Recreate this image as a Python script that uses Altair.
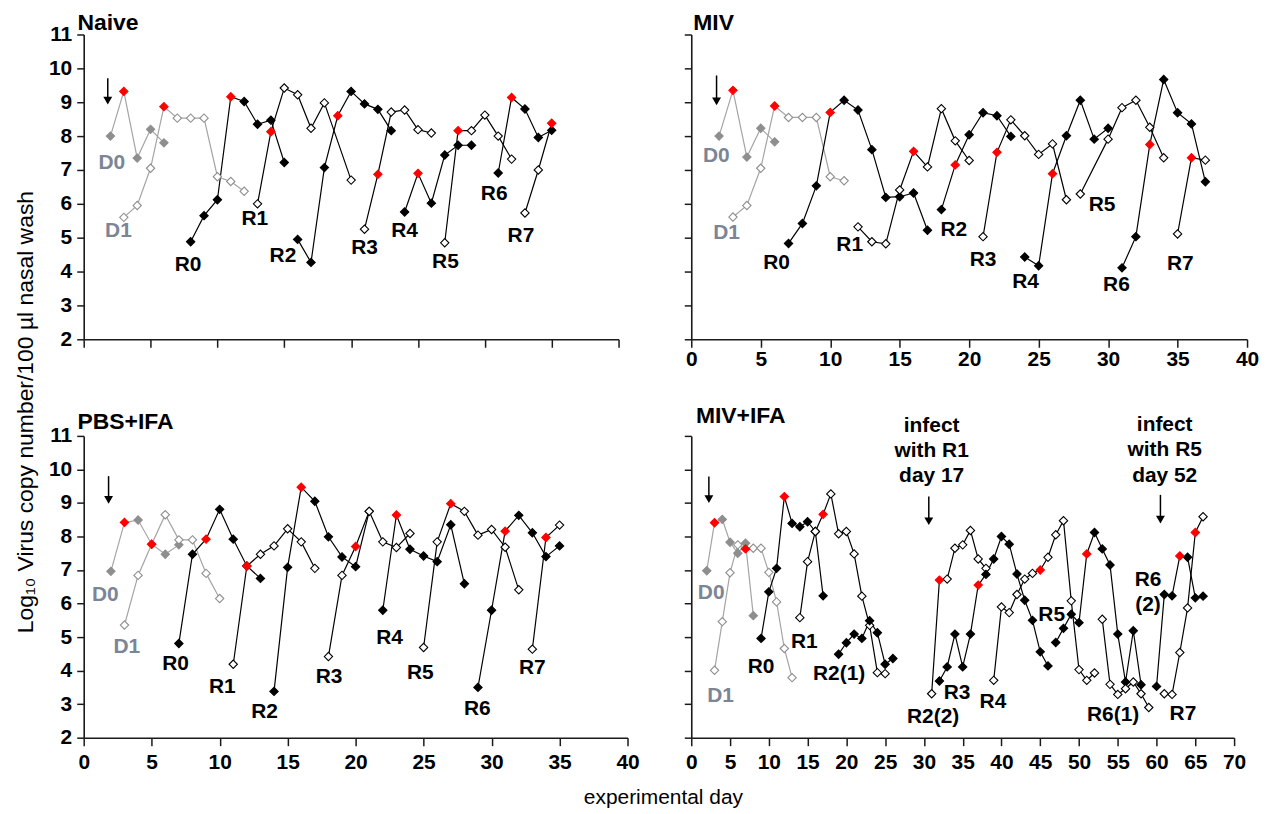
import altair as alt
import pandas as pd

FONT = "Liberation Sans"
BLACK = "#000000"
GREY_LINE = "#a4a4a4"
GREY_MARK = "#8e8e8e"
RED = "#ff0000"
DLABEL = "#7b8595"
AXIS = "#1a1a1a"

# ---------------- Naive ----------------
NV_D0_DAY = [2, 3, 4, 5, 6]
NV_D0_VAL = [8.0, 9.32, 7.35, 8.2, 7.8]
NV_D1_DAY = [3, 4, 5, 6, 7, 8, 9, 10, 11, 12]
NV_D1_VAL = [5.6, 5.95, 7.05, 8.87, 8.53, 8.53, 8.53, 6.8, 6.66, 6.37]
NV_R0_DAY = [8, 9, 10, 11, 12, 13, 14, 15]
NV_R0_VAL = [4.88, 5.65, 6.12, 9.16, 9.02, 8.35, 8.47, 7.22]
NV_R1_DAY = [13, 14, 15, 16, 17, 18, 20]
NV_R1_VAL = [6.0, 8.13, 9.42, 9.22, 8.23, 8.98, 6.7]
NV_R2_DAY = [16, 17, 18, 19, 20, 21, 22, 23]
NV_R2_VAL = [4.95, 4.27, 7.07, 8.6, 9.32, 8.95, 8.79, 8.16]
NV_R3_DAY = [21, 22, 23, 24, 25, 26]
NV_R3_VAL = [5.25, 6.87, 8.71, 8.77, 8.19, 8.09]
NV_R4_DAY = [24, 25, 26, 27, 28, 29]
NV_R4_VAL = [5.76, 6.9, 6.02, 7.44, 7.73, 7.73]
NV_R5_DAY = [27, 28, 29, 30, 31, 32]
NV_R5_VAL = [4.85, 8.16, 8.16, 8.62, 8.0, 7.32]
NV_R6_DAY = [31, 32, 33, 34, 35]
NV_R6_VAL = [6.91, 9.14, 8.8, 7.96, 8.17]
NV_R7_DAY = [33, 34, 35]
NV_R7_VAL = [5.73, 7.0, 8.38]
NV_RED = {"D0": [3], "D1": [6], "R0": [11], "R1": [14], "R2": [19], "R3": [22],
          "R4": [25], "R5": [28], "R6": [32], "R7": [35]}
NV_LBL_TEXT = ["D0", "D1", "R0", "R1", "R2", "R3", "R4", "R5", "R6", "R7"]
NV_LBL_X = [2.1, 2.6, 7.8, 12.8, 14.9, 21.0, 24.0, 27.05, 30.7, 32.7]
NV_LBL_Y = [7.2, 5.2, 4.2, 5.55, 4.46, 4.7, 5.2, 4.27, 6.28, 5.05]
NV_ARROW_X = [1.8]
NV_ARROW_TOP = [9.71]
NV_ARROW_TIP = [8.93]

# ---------------- MIV ----------------
MV_D0_DAY = [2, 3, 4, 5, 6]
MV_D0_VAL = [8.0, 9.35, 7.38, 8.23, 7.83]
MV_D1_DAY = [3, 4, 5, 6, 7, 8, 9, 10, 11]
MV_D1_VAL = [5.61, 5.95, 7.05, 8.89, 8.55, 8.55, 8.55, 6.8, 6.68]
MV_R0_DAY = [7, 8, 9, 10, 11, 12, 13, 14, 15, 16, 17]
MV_R0_VAL = [4.83, 5.42, 6.53, 8.7, 9.06, 8.77, 7.6, 6.19, 6.21, 6.32, 5.22]
MV_R1_DAY = [12, 13, 14, 15, 16, 17, 18, 19, 20]
MV_R1_VAL = [5.32, 4.88, 4.82, 6.41, 7.55, 7.09, 8.81, 7.86, 7.28]
MV_R2_DAY = [18, 19, 20, 21, 22, 23]
MV_R2_VAL = [5.83, 7.15, 8.04, 8.69, 8.6, 7.99]
MV_R3_DAY = [21, 22, 23, 24, 25, 26, 27]
MV_R3_VAL = [5.03, 7.52, 8.48, 8.01, 7.46, 7.77, 6.12]
MV_R4_DAY = [24, 25, 26, 27, 28, 29, 30]
MV_R4_VAL = [4.43, 4.17, 6.89, 8.01, 9.06, 7.91, 8.23]
MV_R5_DAY = [28, 30, 31, 32, 33, 34]
MV_R5_VAL = [6.29, 7.91, 8.84, 9.06, 8.26, 7.36]
MV_R6_DAY = [31, 32, 33, 34, 35, 36, 37]
MV_R6_VAL = [4.11, 5.03, 7.75, 9.67, 8.69, 8.36, 6.65]
MV_R7_DAY = [35, 36, 37]
MV_R7_VAL = [5.11, 7.36, 7.29]
MV_RED = {"D0": [3], "D1": [6], "R0": [10], "R1": [16], "R2": [19], "R3": [22],
          "R4": [26], "R6": [33], "R7": [36]}
MV_LBL_TEXT = ["D0", "D1", "R0", "R1", "R2", "R3", "R4", "R5", "R6", "R7"]
MV_LBL_X = [1.8, 2.54, 6.14, 11.4, 18.9, 21.0, 24.06, 29.56, 30.6, 35.2]
MV_LBL_Y = [7.41, 5.13, 4.25, 4.79, 5.24, 4.35, 3.69, 5.95, 3.59, 4.23]
MV_ARROW_X = [1.82]
MV_ARROW_TOP = [9.79]
MV_ARROW_TIP = [8.91]

# ---------------- PBS+IFA ----------------
PB_D0_DAY = [2, 3, 4, 5, 6, 7]
PB_D0_VAL = [6.96, 8.42, 8.49, 7.77, 7.47, 7.75]
PB_D1_DAY = [3, 4, 5, 6, 7, 8, 9, 10]
PB_D1_VAL = [5.36, 6.84, 7.77, 8.65, 7.9, 7.9, 6.9, 6.15]
PB_R0_DAY = [7, 8, 9, 10, 11, 12, 13]
PB_R0_VAL = [4.81, 7.47, 7.92, 8.81, 7.92, 7.12, 6.75]
PB_R1_DAY = [11, 12, 13, 14, 15, 16, 17]
PB_R1_VAL = [4.19, 7.12, 7.47, 7.72, 8.23, 7.84, 7.05]
PB_R2_DAY = [14, 15, 16, 17, 18, 19, 20, 21]
PB_R2_VAL = [3.38, 7.08, 9.47, 9.05, 7.99, 7.39, 7.1, 8.75]
PB_R3_DAY = [18, 19, 20, 21, 22, 23, 24]
PB_R3_VAL = [4.42, 6.84, 7.7, 8.75, 7.84, 7.67, 8.09]
PB_R4_DAY = [22, 23, 24, 25, 26, 27, 28]
PB_R4_VAL = [5.8, 8.64, 7.62, 7.42, 7.25, 8.35, 6.59]
PB_R5_DAY = [25, 26, 27, 28, 29, 30, 31, 32]
PB_R5_VAL = [4.69, 7.84, 8.98, 8.75, 8.04, 8.21, 7.68, 6.41]
PB_R6_DAY = [29, 30, 31, 32, 33, 34, 35]
PB_R6_VAL = [3.5, 5.8, 8.16, 8.63, 8.11, 7.4, 7.72]
PB_R7_DAY = [33, 34, 35]
PB_R7_VAL = [4.64, 7.97, 8.34]
PB_RED = {"D0": [3, 5], "R0": [9], "R1": [12], "R2": [16], "R3": [20],
          "R4": [23], "R5": [27], "R6": [31], "R7": [34]}
PB_LBL_TEXT = ["D0", "D1", "R0", "R1", "R2", "R3", "R4", "R5", "R6", "R7"]
PB_LBL_X = [1.59, 3.17, 6.76, 10.2, 13.3, 18.05, 22.5, 24.76, 28.95, 33.0]
PB_LBL_Y = [6.26, 4.69, 4.19, 3.5, 2.76, 3.8, 4.98, 3.92, 2.86, 4.09]
PB_ARROW_X = [1.83]
PB_ARROW_TOP = [9.8]
PB_ARROW_TIP = [8.98]

# ---------------- MIV+IFA ----------------
MI_D0_DAY = [2, 3, 4, 5, 6, 7, 8]
MI_D0_VAL = [6.98, 8.41, 8.51, 7.83, 7.5, 7.8, 5.64]
MI_D1_DAY = [3, 4, 5, 6, 7, 8, 9, 10, 11, 12, 13]
MI_D1_VAL = [4.01, 5.46, 6.92, 7.75, 7.63, 7.65, 7.65, 6.93, 6.05, 4.66, 3.79]
MI_R0_DAY = [9, 10, 11, 12, 13, 14, 15, 16, 17]
MI_R0_VAL = [4.96, 6.35, 7.05, 9.19, 8.39, 8.29, 8.44, 8.15, 6.23]
MI_R1_DAY = [14, 15, 16, 17, 18, 19, 20, 21, 22, 23, 24, 25]
MI_R1_VAL = [5.58, 7.25, 8.15, 8.66, 9.27, 8.08, 8.15, 7.48, 6.22, 5.35, 3.94, 3.91]
MI_R21_DAY = [19, 20, 21, 22, 23, 24, 25, 26]
MI_R21_VAL = [4.49, 4.83, 5.09, 4.96, 5.49, 5.13, 4.19, 4.36]
MI_R22_DAY = [31, 32, 33, 34, 35, 36, 37, 38]
MI_R22_VAL = [3.31, 6.7, 6.73, 7.65, 7.75, 8.18, 7.33, 7.05]
MI_R3_DAY = [32, 33, 34, 35, 36, 37, 38, 39, 40, 41, 42, 43, 44, 45, 46]
MI_R3_VAL = [3.69, 4.11, 5.09, 4.11, 5.09, 6.55, 6.87, 7.33, 8.0, 7.77, 6.88, 6.1, 5.5, 4.56, 4.14]
MI_R4_DAY = [39, 40, 41, 42, 43, 44, 45, 46, 47, 48, 49, 50, 51, 52]
MI_R4_VAL = [3.71, 5.9, 5.73, 6.27, 6.73, 6.9, 7.0, 7.38, 8.05, 8.47, 6.08, 4.03, 3.71, 3.93]
MI_R5_DAY = [47, 48, 49, 50, 51, 52, 53, 54, 55, 56, 57, 58]
MI_R5_VAL = [4.84, 5.26, 5.68, 5.43, 7.48, 8.12, 7.63, 7.15, 5.09, 3.66, 5.19, 3.58]
MI_R61_DAY = [53, 54, 55, 56, 57, 58, 59]
MI_R61_VAL = [5.53, 3.59, 3.29, 3.46, 3.66, 3.31, 2.9]
MI_R62_DAY = [60, 61, 62, 63, 64, 65, 66]
MI_R62_VAL = [3.53, 6.27, 6.23, 7.42, 7.38, 6.17, 6.22]
MI_R7_DAY = [61, 62, 63, 64, 65, 66]
MI_R7_VAL = [3.31, 3.29, 4.54, 5.87, 8.12, 8.59]
MI_RED = {"D0": [3], "D1": [7], "R0": [12], "R1": [17], "R2(2)": [32], "R3": [37],
          "R4": [45], "R5": [51], "R6(2)": [63], "R7": [65]}
MI_LBL_TEXT = ["D0", "D1", "R0", "R1", "R2(1)", "R2(2)", "R3", "R4", "R5", "R6(1)", "R6", "(2)", "R7"]
MI_LBL_X = [2.57, 3.77, 9.0, 14.57, 19.07, 31.19, 34.28, 38.9, 46.48, 54.4, 58.9, 58.9, 63.4]
MI_LBL_Y = [6.3, 3.24, 4.11, 4.86, 3.91, 2.62, 3.34, 3.07, 5.66, 2.67, 6.7, 5.95, 2.72]
MI_NOTE_TEXT = ["infect", "with R1", "day 17", "infect", "with R5", "day 52"]
MI_NOTE_X = [31.0, 31.0, 31.0, 61.05, 61.05, 61.05]
MI_NOTE_Y = [11.28, 10.54, 9.79, 11.33, 10.59, 9.79]
MI_ARROW_X = [2.27, 30.63, 60.5]
MI_ARROW_TOP = [9.79, 9.19, 9.24]
MI_ARROW_TIP = [9.0, 8.34, 8.39]

# panel titles (left edge, baseline) in data units
TITLE_TEXT = ["Naive", "MIV", "PBS+IFA", "MIV+IFA"]
TITLE_X = [-0.47, 0.14, -0.46, 0.6]
TITLE_Y = [11.12, 11.12, 11.21, 11.39]

Y_TITLE = "Log\u2081\u2080 Virus copy number/100 \u00b5l nasal wash"
X_TITLE = "experimental day"


def frames(series, red):
    lrows, prows = [], []
    for name, days, vals, filled in series:
        grey = name.startswith("D")
        lc = GREY_LINE if grey else BLACK
        mc = GREY_MARK if grey else BLACK
        for d, v in zip(days, vals):
            is_red = d in red.get(name, [])
            lrows.append(dict(series=name, day=d, val=v, lc=lc))
            if is_red:
                f, s = RED, RED
            elif filled:
                f, s = mc, mc
            else:
                f, s = "#ffffff", mc
            prows.append(dict(series=name, day=d, val=v, fill=f, stroke=s, red=int(is_red)))
    pts = pd.DataFrame(prows).sort_values("red", kind="stable")
    return pd.DataFrame(lrows), pts


def panel(series, red, lbl, arrows, title_idx, xmax, w, h, xlabels, ylabels, xpad,
          notes=None, extra=None):
    ldf, pdf = frames(series, red)
    xs = alt.Scale(domain=[0, xmax], nice=False, zero=False)
    ys = alt.Scale(domain=[2, 11], nice=False, zero=False)
    xax = alt.Axis(values=list(range(0, xmax + 1, 5)), labels=xlabels, title=None, grid=False,
                   tickSize=8, tickWidth=1.5, domainWidth=1.6, domainColor=AXIS, tickColor=AXIS,
                   labelFont=FONT, labelFontSize=21, labelFontWeight="bold", labelColor=BLACK,
                   labelPadding=xpad, labelFlush=False, labelOverlap=False)
    yax = alt.Axis(values=list(range(2, 12)), labels=ylabels, title=None, grid=False,
                   tickSize=7, tickWidth=1.5, domainWidth=1.6, domainColor=AXIS, tickColor=AXIS,
                   labelFont=FONT, labelFontSize=21, labelFontWeight="bold", labelColor=BLACK,
                   labelPadding=5, labelFlush=False, labelOverlap=False)
    X = alt.X("day:Q", scale=xs, axis=xax)
    Y = alt.Y("val:Q", scale=ys, axis=yax)

    lines = alt.Chart(ldf).mark_line(strokeWidth=1.2).encode(
        x=X, y=Y, detail="series:N", color=alt.Color("lc:N", scale=None))
    pts = alt.Chart(pdf).mark_point(shape="diamond", filled=True, size=70, strokeWidth=1.1,
                                    opacity=1).encode(
        x=X, y=Y, fill=alt.Fill("fill:N", scale=None), stroke=alt.Stroke("stroke:N", scale=None))

    txt, lx, ly = lbl
    ldf2 = pd.DataFrame(dict(day=lx, val=ly, text=txt,
                             color=[DLABEL if t.startswith("D") else BLACK for t in txt]))
    labels = alt.Chart(ldf2).mark_text(font=FONT, fontSize=21, fontWeight="bold", align="center",
                                       baseline="middle").encode(
        x=X, y=Y, text="text:N", color=alt.Color("color:N", scale=None))

    ax, atop, atip = arrows
    rdf = pd.DataFrame(dict(day=ax, val=atop, val2=[t + 0.115 for t in atip]))
    hdf = pd.DataFrame(dict(day=ax, val=[t + 0.115 for t in atip]))
    shaft = alt.Chart(rdf).mark_rule(strokeWidth=1.5, color=BLACK).encode(
        x=X, y=Y, y2="val2:Q")
    head = alt.Chart(hdf).mark_point(shape="triangle-down", filled=True, size=80, color=BLACK,
                                     opacity=1).encode(x=X, y=Y)

    tdf = pd.DataFrame(dict(day=[TITLE_X[title_idx]], val=[TITLE_Y[title_idx]],
                            text=[TITLE_TEXT[title_idx]]))
    ttl = alt.Chart(tdf).mark_text(font=FONT, fontSize=23, fontWeight="bold", align="left",
                                   baseline="alphabetic", color=BLACK).encode(
        x=X, y=Y, text="text:N")

    layers = [lines, pts, labels, shaft, head, ttl]
    if notes is not None:
        nt, nx, ny = notes
        ndf = pd.DataFrame(dict(day=nx, val=ny, text=nt))
        layers.append(alt.Chart(ndf).mark_text(font=FONT, fontSize=21, fontWeight="bold",
                                               align="center", baseline="middle",
                                               color=BLACK).encode(x=X, y=Y, text="text:N"))
    if extra is not None:
        layers.extend(extra(X, Y))
    return alt.layer(*layers).properties(width=w, height=h)


def std_series(p):
    g = globals()
    out = []
    for n in ["D0", "D1", "R0", "R1", "R2", "R3", "R4", "R5", "R6", "R7"]:
        filled = (n == "D0") or (n.startswith("R") and int(n[1]) % 2 == 0)
        out.append((n, g[f"{p}_{n}_DAY"], g[f"{p}_{n}_VAL"], filled))
    return out


MI_SERIES = [
    ("D0", MI_D0_DAY, MI_D0_VAL, True),
    ("D1", MI_D1_DAY, MI_D1_VAL, False),
    ("R0", MI_R0_DAY, MI_R0_VAL, True),
    ("R1", MI_R1_DAY, MI_R1_VAL, False),
    ("R2(1)", MI_R21_DAY, MI_R21_VAL, True),
    ("R2(2)", MI_R22_DAY, MI_R22_VAL, False),
    ("R3", MI_R3_DAY, MI_R3_VAL, True),
    ("R4", MI_R4_DAY, MI_R4_VAL, False),
    ("R5", MI_R5_DAY, MI_R5_VAL, True),
    ("R6(1)", MI_R61_DAY, MI_R61_VAL, False),
    ("R6(2)", MI_R62_DAY, MI_R62_VAL, True),
    ("R7", MI_R7_DAY, MI_R7_VAL, False),
]


def bl_extra(X, Y):
    ydf = pd.DataFrame(dict(day=[-4.25], val=[11.71], text=[Y_TITLE]))
    xdf = pd.DataFrame(dict(day=[42.64], val=[0.2], text=[X_TITLE]))
    yt = alt.Chart(ydf).mark_text(font=FONT, fontSize=23, angle=270, align="center",
                                  baseline="middle", color=BLACK).encode(x=X, y=Y, text="text:N")
    xt = alt.Chart(xdf).mark_text(font=FONT, fontSize=21, align="center",
                                  baseline="middle", color=BLACK).encode(x=X, y=Y, text="text:N")
    return [yt, xt]


tl = panel(std_series("NV"), NV_RED, (NV_LBL_TEXT, NV_LBL_X, NV_LBL_Y),
           (NV_ARROW_X, NV_ARROW_TOP, NV_ARROW_TIP), 0, 40, 537, 306, False, True, 6)
tr = panel(std_series("MV"), MV_RED, (MV_LBL_TEXT, MV_LBL_X, MV_LBL_Y),
           (MV_ARROW_X, MV_ARROW_TOP, MV_ARROW_TIP), 1, 40, 558, 306, True, False, 1)
bl = panel(std_series("PB"), PB_RED, (PB_LBL_TEXT, PB_LBL_X, PB_LBL_Y),
           (PB_ARROW_X, PB_ARROW_TOP, PB_ARROW_TIP), 2, 40, 546, 303, True, True, 6,
           extra=bl_extra)
br = panel(MI_SERIES, MI_RED, (MI_LBL_TEXT, MI_LBL_X, MI_LBL_Y),
           (MI_ARROW_X, MI_ARROW_TOP, MI_ARROW_TIP), 3, 70, 545, 303, True, False, 6,
           notes=(MI_NOTE_TEXT, MI_NOTE_X, MI_NOTE_Y))

chart = alt.concat(tl, tr, bl, br, columns=2, spacing={"row": 97, "column": 64},
                   bounds="flush").properties(
    padding={"left": 6, "top": 2, "right": 0, "bottom": 0}
).configure_view(stroke=None)

chart.save("out.html", embed_options={"renderer": "svg", "actions": False})
